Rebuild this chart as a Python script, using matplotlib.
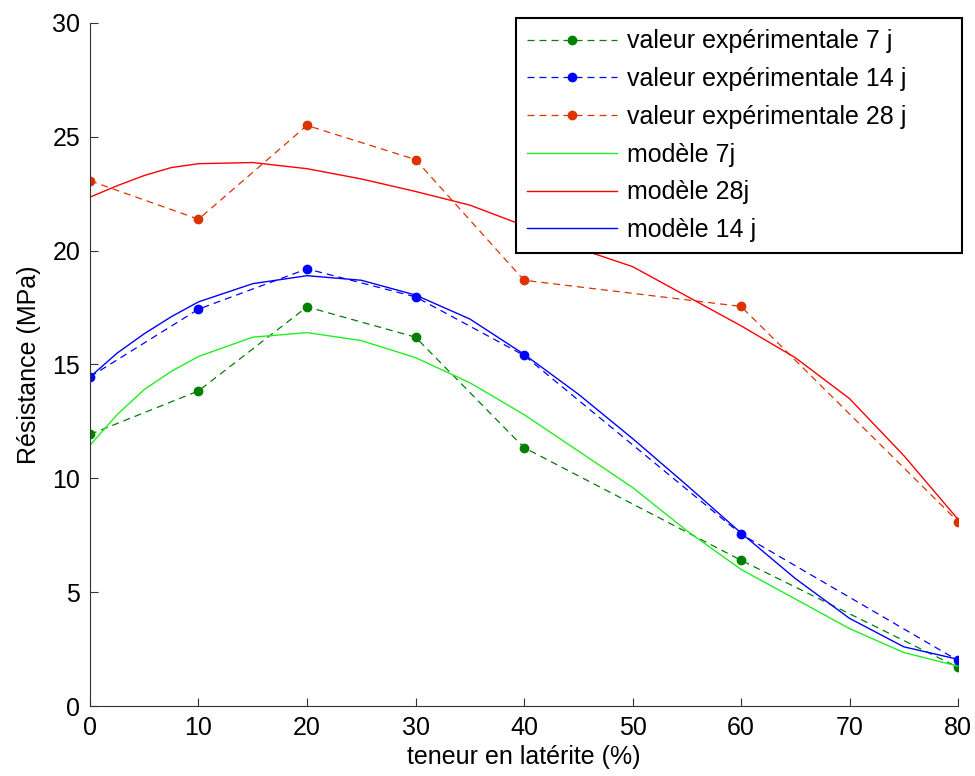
import numpy as np
import matplotlib.pyplot as plt

plt.rcParams['font.family'] = ['Liberation Sans', 'DejaVu Sans']

# experimental points
x_exp = [0, 10, 20, 30, 40, 60, 80]
exp_7 = [11.93, 13.84, 17.53, 16.2, 11.35, 6.4, 1.7]
exp_14 = [14.46, 17.43, 19.2, 17.97, 15.4, 7.55, 2.0]
exp_28 = [23.07, 21.38, 25.5, 24.0, 18.7, 17.55, 8.1]

# model curves
x_mod = [0, 2.5, 5, 7.5, 10, 15, 20, 25, 30, 35, 40, 45, 50, 55, 60, 65, 70, 75, 80]
mod_7 = [11.45, 12.8, 13.9, 14.7, 15.35, 16.2, 16.4, 16.05, 15.3, 14.2, 12.8, 11.2,
         9.6, 7.7, 6.0, 4.7, 3.4, 2.35, 1.75]
mod_14 = [14.45, 15.5, 16.35, 17.1, 17.75, 18.55, 18.9, 18.7, 18.05, 17.0, 15.45, 13.7,
          11.75, 9.7, 7.6, 5.6, 3.85, 2.6, 2.05]
mod_28 = [22.35, 22.85, 23.3, 23.65, 23.82, 23.87, 23.6, 23.15, 22.6, 22.0, 21.1, 20.1,
          19.3, 18.0, 16.7, 15.3, 13.5, 11.0, 8.2]

fs = 18

fig = plt.figure(figsize=(9.75, 7.76), dpi=100)
ax = fig.add_axes([0.0923, 0.0902, 0.8903, 0.8802])

dash = (5.6, 4.0)
ax.plot(x_exp, exp_7, '--', dashes=dash, color='#007f00', lw=0.9, marker='o', ms=6,
        label='valeur expérimentale 7 j')
ax.plot(x_exp, exp_14, '--', dashes=dash, color='#0000ff', lw=0.9, marker='o', ms=6,
        label='valeur expérimentale 14 j')
ax.plot(x_exp, exp_28, '--', dashes=dash, color='#dd3300', lw=0.9, marker='o', ms=6,
        label='valeur expérimentale 28 j')
ax.plot(x_mod, mod_7, '-', color='#22ee22', lw=1.0, label='modèle 7j')
ax.plot(x_mod, mod_28, '-', color='#ff0000', lw=1.0, label='modèle 28j')
ax.plot(x_mod, mod_14, '-', color='#0000ff', lw=1.0, label='modèle 14 j')

ax.set_xlim(0, 80)
ax.set_ylim(0, 30)
ax.set_xticks(np.arange(0, 81, 10))
ax.set_yticks(np.arange(0, 31, 5))
ax.spines['top'].set_visible(False)
ax.spines['right'].set_visible(False)
ax.spines['left'].set_color('#333333')
ax.spines['bottom'].set_color('#333333')
ax.tick_params(direction='in', length=6, labelsize=fs, top=False, right=False,
               colors='#333333', labelcolor='black')
ax.tick_params(axis='y', pad=7)
ax.tick_params(axis='x', pad=7)
ax.set_xlabel('teneur en latérite (%)', fontsize=fs, labelpad=4)
ax.set_ylabel('Résistance (MPa)', fontsize=fs, labelpad=8)

# legend box stretched to the same width as the original
leg = ax.legend(loc='upper left', bbox_to_anchor=(0.4908, 0.6, 0.5138, 0.407),
                mode='expand', borderaxespad=0,
                fontsize=fs, handlelength=3.6, handletextpad=0.4, labelspacing=0.55,
                fancybox=False, framealpha=1, edgecolor='black', borderpad=0.45)
leg.get_frame().set_linewidth(1.5)

plt.savefig('out.png', dpi=100)
